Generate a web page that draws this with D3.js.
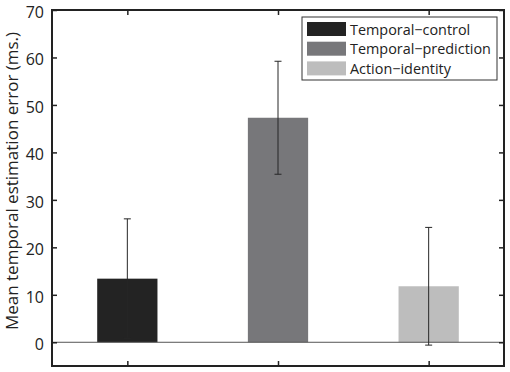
<!DOCTYPE html>
<html>
<head>
<meta charset="utf-8">
<script src="https://cdn.jsdelivr.net/npm/d3@7"></script>
<style>
  body { margin: 0; background: #fff; }
  text { font-family: "Open Sans", sans-serif; fill: #222; }
</style>
</head>
<body>
<div id="chart"></div>
<script>
// chart data
const conditions = ["Temporal\u2212control", "Temporal\u2212prediction", "Action\u2212identity"];
const meanError = [13.4, 47.3, 11.8];
const errorSize = [12.6, 11.9, 12.4];
const barColors = ["#232323", "#77777a", "#bdbdbd"];
const yTicks = [0, 10, 20, 30, 40, 50, 60, 70];

const width = 510, height = 372;
const plotLeft = 52, plotRight = 504, plotTop = 10, plotBottom = 366;

const svg = d3.select("#chart")
    .append("svg")
    .attr("width", width)
    .attr("height", height);

const x = d3.scaleLinear()
    .domain([0.5, 3.5])
    .range([plotLeft, plotRight]);

const y = d3.scaleLinear()
    .domain([-5, 70])
    .range([plotBottom, plotTop]);

const g = svg.append("g");

// bars
g.selectAll(".bar")
    .data(meanError)
    .enter().append("rect")
    .attr("class", "bar")
    .attr("x", (d, i) => x(i + 1 - 0.2))
    .attr("width", x(1.4) - x(1))
    .attr("y", d => y(d))
    .attr("height", d => y(0) - y(d))
    .attr("fill", (d, i) => barColors[i]);

// zero line
g.append("line")
    .attr("x1", plotLeft).attr("x2", plotRight)
    .attr("y1", y(0)).attr("y2", y(0))
    .attr("stroke", "#555")
    .attr("stroke-width", 1);

// error bars
const err = g.selectAll(".err")
    .data(meanError)
    .enter().append("g")
    .attr("class", "err")
    .attr("stroke", "#262626")
    .attr("stroke-width", 1);

err.append("line")
    .attr("x1", (d, i) => x(i + 1)).attr("x2", (d, i) => x(i + 1))
    .attr("y1", (d, i) => y(d - errorSize[i]))
    .attr("y2", (d, i) => y(d + errorSize[i]));

err.append("line")
    .attr("x1", (d, i) => x(i + 1) - 3.5).attr("x2", (d, i) => x(i + 1) + 3.5)
    .attr("y1", (d, i) => y(d + errorSize[i]))
    .attr("y2", (d, i) => y(d + errorSize[i]));

err.append("line")
    .attr("x1", (d, i) => x(i + 1) - 3.5).attr("x2", (d, i) => x(i + 1) + 3.5)
    .attr("y1", (d, i) => y(d - errorSize[i]))
    .attr("y2", (d, i) => y(d - errorSize[i]));

// axes (matlab style, ticks inward on all sides)
const axisLeft = d3.axisLeft(y).tickValues(yTicks).tickSize(-5).tickPadding(8);
const axisRight = d3.axisRight(y).tickValues(yTicks).tickSize(-5).tickFormat("");
const axisBottom = d3.axisBottom(x).tickValues([1, 2, 3]).tickSize(-5).tickFormat("");
const axisTop = d3.axisTop(x).tickValues([1, 2, 3]).tickSize(-5).tickFormat("");

[[axisLeft, `translate(${plotLeft},0)`], [axisRight, `translate(${plotRight},0)`],
 [axisBottom, `translate(0,${plotBottom})`], [axisTop, `translate(0,${plotTop})`]].forEach(([ax, tr]) => {
    const a = g.append("g").attr("transform", tr).call(ax);
    a.select(".domain").remove();
    a.selectAll("line").attr("stroke", "#222").attr("stroke-width", 1.5);
    a.selectAll("text")
        .attr("dy", "0.47em")
        .style("font-family", "'Open Sans', sans-serif")
        .style("font-size", "16px")
        .attr("fill", "#222");
});

// frame
g.append("rect")
    .attr("x", plotLeft).attr("y", plotTop)
    .attr("width", plotRight - plotLeft).attr("height", plotBottom - plotTop)
    .attr("fill", "none")
    .attr("stroke", "#222")
    .attr("stroke-width", 2);

// y label
svg.append("text")
    .attr("transform", `translate(18,${(plotTop + plotBottom) / 2 - 7}) rotate(-90)`)
    .attr("text-anchor", "middle")
    .style("font-size", "17px")
    .text("Mean temporal estimation error (ms.)");

// legend
const legend = svg.append("g").attr("transform", "translate(302,17)");
legend.append("rect")
    .attr("width", 195).attr("height", 63)
    .attr("fill", "#fff")
    .attr("stroke", "#333")
    .attr("stroke-width", 1);

const item = legend.selectAll(".item")
    .data(conditions)
    .enter().append("g")
    .attr("class", "item")
    .attr("transform", (d, i) => `translate(0,${5 + i * 19.7})`);

item.append("rect")
    .attr("x", 5).attr("width", 39).attr("height", 14)
    .attr("fill", (d, i) => barColors[i]);

item.append("text")
    .attr("x", 48).attr("y", 12.5)
    .style("font-size", "14.4px")
    .text(d => d);
</script>
</body>
</html>
